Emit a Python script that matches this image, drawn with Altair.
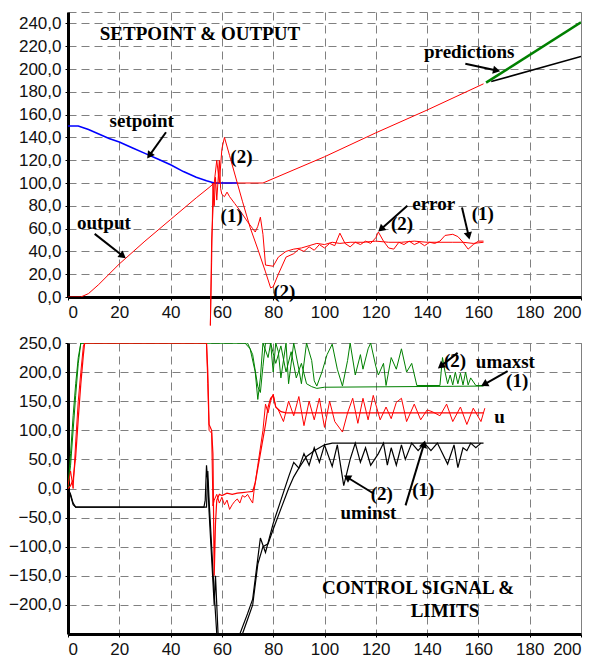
import math
import altair as alt
import pandas as pd

# ---------------- top panel: SETPOINT & OUTPUT ----------------
setpoint_x = [0, 4, 8, 12, 16, 20, 25, 30, 35, 40, 45, 50, 54, 57, 66]
setpoint_y = [150, 150, 147, 143, 139, 136, 131, 126, 121, 116, 110, 105, 102, 100, 100]

output_x = [0, 5, 8, 12, 20, 30, 40, 50, 55, 57, 76, 100, 120, 140, 162]
output_y = [0, 0, 3, 11, 29, 49, 68, 87, 96, 100, 100, 123, 144, 164, 187]

error1_x = [55.5, 56, 56.5, 57, 57.5, 58, 59, 59.5, 60, 61, 62, 63, 65, 67, 70, 72, 73, 74, 75, 76, 77,
            80, 82, 85, 88, 91, 94, 97, 100, 103, 106, 110, 115, 120, 125, 130, 135, 140, 145, 150, 154,
            158, 162]
error1_y = [-25, 30, 100, 80, 105, 85, 120, 95, 90, 88, 92, 88, 82, 76, 66, 60, 57, 62, 70, 55, 28,
            27, 35, 40, 42, 43, 45, 47, 46, 48, 47, 48, 48, 49, 48, 48, 49, 48, 48, 48, 48,
            47, 48]

error2_x = [55.5, 56, 57, 58, 59, 60, 61, 63, 66, 68, 71, 74, 77, 79, 80, 82, 85, 88, 90, 92, 94, 96,
            98, 100, 102, 104, 106, 108, 110, 112, 114, 116, 118, 120, 121, 123, 125, 127, 129, 131,
            133, 135, 137, 139, 141, 143, 145, 147, 150, 152, 154, 156, 158, 160, 162]
error2_y = [-25, 50, 100, 120, 100, 130, 140, 124, 100, 84, 61, 42, 22, 8, 9, 20, 35, 38, 42, 40, 44, 41,
            46, 43, 47, 45, 56, 47, 44, 48, 46, 49, 47, 52, 57, 49, 43, 42, 48, 46,
            49, 46, 48, 45, 48, 47, 49, 54, 55, 53, 48, 42, 46, 49, 49]

pred_green_x = [163, 200]
pred_green_y = [188, 241]
pred_black_x = [165, 200]
pred_black_y = [189, 211]

top_text = ["SETPOINT  & OUTPUT", "setpoint", "output", "(2)", "(1)", "(2)",
            "predictions", "error", "(2)", "(1)"]
top_text_x = [12.4, 16.2, 3.5, 63.3, 59.5, 80, 138.8, 134.2, 125.9, 157.4]
top_text_y = [231, 154.7, 65, 122.5, 71, 4, 214.8, 82, 64, 73]

top_arrow_x1 = [38.2, 10.4, 154.9, 132.3, 153.6]
top_arrow_y1 = [144.5, 55.4, 204.6, 80, 78.5]
top_arrow_x2 = [31.7, 21.4, 167.1, 122, 156.2]
top_arrow_y2 = [124, 36, 198.7, 59.5, 53.6]

# ---------------- bottom panel: CONTROL SIGNAL & LIMITS ----------------
umax1_x = [0, 1, 2, 3, 4, 5, 70, 72, 74, 75, 76, 77, 79, 81, 83, 85, 87, 89, 91, 93, 95, 97, 100, 162]
umax1_y = [0, 60, 125, 180, 225, 250, 250, 230, 175, 165, 210, 250, 250, 215, 245, 200, 235, 190, 215,
           180, 175, 172, 174, 176]

umax2_x = [0, 1, 2, 3, 4, 5, 69, 71, 73, 74, 75, 76, 78, 79, 80, 81, 82, 83, 85, 86, 88, 90, 91, 93, 95,
           96, 97, 99, 101, 103, 105, 107, 109, 110, 112, 114, 115, 117, 118, 120, 121, 123, 124, 126,
           128, 130, 132, 134, 136, 145, 146, 147, 148, 149, 150, 151, 152, 153, 154, 155, 156, 157,
           159, 162]
umax2_y = [0, 40, 100, 160, 215, 250, 250, 240, 200, 153, 190, 250, 225, 250, 200, 250, 235, 190, 250,
           180, 250, 205, 180, 250, 220, 185, 176, 200, 230, 248, 205, 176, 220, 250, 195, 230, 205,
           240, 250, 210, 195, 215, 177, 225, 205, 240, 200, 215, 177, 177, 225, 200, 180, 195, 178,
           200, 180, 198, 178, 200, 178, 190, 177, 177]

u1_x = [0, 1, 2, 3, 4, 5, 6, 6.5, 54, 54.5, 55, 56, 56.5, 57, 57.5, 58, 59, 60, 62, 64, 66, 68, 70, 72,
        73, 75, 77, 78, 79, 80, 81, 83, 85, 162]
u1_y = [0, 5, 15, 55, 120, 180, 230, 250, 250, 200, 110, 100, 60, -150, -60, -20, -10, -12, -8, -10, -8,
        -7, -6, -5, 10, 60, 110, 140, 155, 160, 140, 132, 130, 130]

u2_x = [0, 1, 2, 3, 4, 5, 6, 6.5, 54, 54.5, 55, 56, 56.5, 57, 58, 59, 60, 61, 62, 63, 64, 65, 66, 67,
        68, 69, 70, 71, 72, 72.5, 74, 76, 77, 78, 79, 80, 81, 82, 84, 86, 88, 90, 92, 94, 96, 98, 100,
        102, 104, 107, 109, 111, 113, 115, 117, 119, 121.7, 124, 126, 128, 130, 132, 135, 137.5, 140,
        142, 145, 147.6, 150, 153, 155.5, 158, 161, 162.5]
u2_y = [5, 30, 0, 80, 150, 200, 245, 250, 250, 180, 100, 95, -30, -20, -10, -25, -15, -28, -20, -36,
        -28, -22, -18, -25, -12, -15, -10, -18, -25, -5, 40, 100, 145, 130, 150, 162, 140, 135, 115,
        150, 125, 158, 108, 150, 118, 155, 105, 150, 115, 97, 130, 155, 112, 155, 118, 160, 118, 140,
        120, 148, 155, 115, 145, 118, 135, 132, 125, 145, 115, 140, 110, 138, 115, 138]

umin1_x = [0, 1, 2, 3, 54, 54.5, 55, 56, 57, 58, 68, 70, 72, 74, 76, 78, 80, 83, 86, 88, 90, 93, 96,
           100, 103, 162]
umin1_y = [0, -10, -25, -32, -32, 30, -20, -100, -180, -250, -250, -225, -200, -130, -100, -95, -70,
           -35, 0, 20, 35, 55, 65, 75, 78, 78]

umin2_x = [0, 1, 2, 3, 53, 53.5, 54, 54.5, 55, 56, 57, 57.5, 58.5, 67, 70, 72, 74, 75, 77, 80, 83, 86,
           88, 90, 92, 94, 96, 98, 100, 103, 105, 107.5, 110, 112, 114, 116, 118, 121, 123, 124.5, 126,
           128, 130, 131.5, 134, 136.5, 139, 141.5, 144, 146, 148, 150.5, 152, 154, 155.5, 157, 159,
           161]
umin2_y = [0, -12, -28, -32, -32, -20, 40, 10, -40, -120, -200, -150, -250, -250, -215, -190, -120,
           -85, -110, -60, -20, 20, 45, 35, 60, 40, 70, 45, 75, 38, 75, 5, 50, 78, 45, 70, 40, 60, 78,
           40, 70, 40, 75, 50, 78, 65, 78, 65, 78, 60, 42, 75, 36, 70, 65, 78, 70, 78]

bot_text = ["umaxst", "(2)", "(1)", "u", "uminst", "(2)", "(1)", "CONTROL SIGNAL &", "LIMITS"]
bot_text_x = [159, 146.6, 170.8, 166.2, 106.2, 118, 134.2, 99, 133.6]
bot_text_y = [217.6, 219, 184.6, 122, -42, -9, -3, -171.5, -211]

bot_arrow_x1 = [151.9, 171.4, 119.3, 131.6]
bot_arrow_y1 = [233, 201.7, -9, -29]
bot_arrow_x2 = [145.3, 162.3, 108.8, 138.8]
bot_arrow_y2 = [210, 179, 19.3, 76.4]

# ---------------- layout / styling ----------------
X_DOMAIN = [0, 200]
TOP_DOMAIN = [0, 250]
BOT_DOMAIN = [-250, 250]
W = 513
H_TOP = 285
H_BOT = 291
LABEL_EXPR = "replace(format(datum.value, '.1f'), '.', ',')"
TEXT_FONT = "Liberation Serif"
X_TICKS = list(range(0, 201, 20))
TOP_TICKS = list(range(0, 241, 20))
BOT_TICKS = list(range(-200, 251, 50))


def enc_xy(xfield, yfield, ydom, yticks):
    return dict(
        x=alt.X(xfield, scale=alt.Scale(domain=X_DOMAIN, nice=False, zero=False),
                axis=alt.Axis(values=X_TICKS, title=None, grid=True)),
        y=alt.Y(yfield, scale=alt.Scale(domain=ydom, nice=False, zero=False),
                axis=alt.Axis(values=yticks, title=None, grid=True, labelExpr=LABEL_EXPR)),
    )


def line_layer(xs, ys, color, width, ydom, yticks, clip=True):
    df = pd.DataFrame({"x": xs, "y": ys})
    return alt.Chart(df).mark_line(color=color, strokeWidth=width, clip=clip).encode(
        **enc_xy("x:Q", "y:Q", ydom, yticks)
    )


def text_layer(texts, xs, ys, ydom, yticks):
    df = pd.DataFrame({"x": xs, "y": ys, "t": texts})
    return alt.Chart(df).mark_text(
        font=TEXT_FONT, fontWeight="bold", fontSize=19, align="left", baseline="middle", color="black"
    ).encode(text="t:N", **enc_xy("x:Q", "y:Q", ydom, yticks))


def arrow_layers(x1, y1, x2, y2, ydom, yticks, h):
    sx = W / (X_DOMAIN[1] - X_DOMAIN[0])
    sy = h / (ydom[1] - ydom[0])
    angles = []
    for a, b, c, d in zip(x1, y1, x2, y2):
        dx = (c - a) * sx
        dy = -(d - b) * sy
        angles.append(math.degrees(math.atan2(dx, -dy)) % 360)
    df = pd.DataFrame({"x": x1, "y": y1, "x2": x2, "y2": y2, "ang": angles})
    rules = alt.Chart(df).mark_rule(color="black", strokeWidth=2).encode(
        x2="x2:Q", y2="y2:Q", **enc_xy("x:Q", "y:Q", ydom, yticks)
    )
    heads = alt.Chart(df).mark_point(shape="triangle-up", filled=True, color="black", size=70,
                                     opacity=1).encode(
        angle=alt.Angle("ang:Q", scale=None), **enc_xy("x2:Q", "y2:Q", ydom, yticks)
    )
    return rules + heads


T = (TOP_DOMAIN, TOP_TICKS)
B = (BOT_DOMAIN, BOT_TICKS)

top = alt.layer(
    line_layer(output_x, output_y, "#ff0000", 1, *T),
    line_layer(setpoint_x, setpoint_y, "#0000ff", 1.6, *T),
    line_layer(error1_x, error1_y, "#ff0000", 1, *T, clip=False),
    line_layer(error2_x, error2_y, "#ff0000", 1, *T, clip=False),
    line_layer(pred_black_x, pred_black_y, "#000000", 1.6, *T),
    line_layer(pred_green_x, pred_green_y, "#008000", 2.6, *T),
    arrow_layers(top_arrow_x1, top_arrow_y1, top_arrow_x2, top_arrow_y2, *T, H_TOP),
    text_layer(top_text, top_text_x, top_text_y, *T),
).properties(width=W, height=H_TOP)

bottom = alt.layer(
    line_layer(umax1_x, umax1_y, "#008000", 1, *B),
    line_layer(umax2_x, umax2_y, "#008000", 1, *B),
    line_layer(umin1_x, umin1_y, "#000000", 1.2, *B),
    line_layer(umin2_x, umin2_y, "#000000", 1.2, *B),
    line_layer(u1_x, u1_y, "#ff0000", 1.2, *B),
    line_layer(u2_x, u2_y, "#ff0000", 1, *B),
    arrow_layers(bot_arrow_x1, bot_arrow_y1, bot_arrow_x2, bot_arrow_y2, *B, H_BOT),
    text_layer(bot_text, bot_text_x, bot_text_y, *B),
).properties(width=W, height=H_BOT)

chart = alt.vconcat(top, bottom, spacing=46, bounds="flush").properties(
    padding={"left": 0, "top": 3, "right": 0, "bottom": 2}
).configure_view(
    stroke="#808080", strokeDash=[8, 5], strokeWidth=1
).configure_axis(
    labelFont="Liberation Sans", labelFontSize=17, labelColor="#111111",
    domainColor="black", domainWidth=3, tickColor="black", tickSize=3, tickWidth=1,
    labelPadding=4, gridColor="#808080", gridDash=[8, 5], gridWidth=1, gridOpacity=1,
    labelOverlap=False,
)

chart.save("out.html", embed_options={"renderer": "svg", "actions": False})
